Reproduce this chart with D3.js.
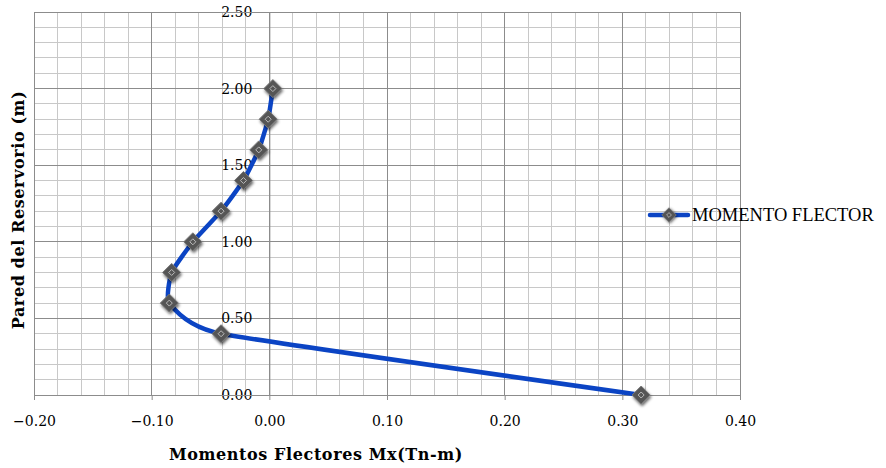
<!DOCTYPE html>
<html><head><meta charset="utf-8">
<script src="https://cdn.jsdelivr.net/npm/d3@7"></script>
<style>body{margin:0;background:#fff}svg{display:block}</style>
</head><body><svg id="c" width="886" height="468"></svg>
<script>
const heights = [0.0, 0.4, 0.6, 0.8, 1.0, 1.2, 1.4, 1.6, 1.8, 2.0];
const moments = [0.316, -0.041, -0.085, -0.083, -0.065, -0.041, -0.022, -0.009, -0.001, 0.003];
const xTicks = [-0.2, -0.1, 0.0, 0.1, 0.2, 0.3, 0.4];
const yTicks = [0.0, 0.5, 1.0, 1.5, 2.0, 2.5];
const seriesName = "MOMENTO FLECTOR";

const svg = d3.select("#c");
const L = 34, R = 740, T = 12, B = 395;
const x = d3.scaleLinear().domain([-0.2, 0.4]).range([L, R]);
const y = d3.scaleLinear().domain([0, 2.5]).range([B, T]);

const defs = svg.append("defs");
const f = defs.append("filter").attr("id","sh").attr("x","-50%").attr("y","-50%").attr("width","200%").attr("height","200%");
f.append("feGaussianBlur").attr("in","SourceAlpha").attr("stdDeviation",1.8).attr("result","b");
f.append("feOffset").attr("in","b").attr("dx",1).attr("dy",1.5).attr("result","o");
f.append("feComponentTransfer").attr("in","o").attr("result","o2").append("feFuncA").attr("type","linear").attr("slope",0.6);
const m = f.append("feMerge"); m.append("feMergeNode").attr("in","o2"); m.append("feMergeNode").attr("in","SourceGraphic");

// minor grid
const g = svg.append("g");
g.selectAll(".mx").data(d3.range(-0.2, 0.4001, 0.02)).join("line")
  .attr("x1", d=>x(d)).attr("x2", d=>x(d)).attr("y1", T).attr("y2", B)
  .attr("stroke", "#c8c8c8").attr("stroke-width", 1).attr("shape-rendering","crispEdges");
g.selectAll(".my").data(d3.range(0, 2.5001, 0.1)).join("line")
  .attr("x1", L).attr("x2", R).attr("y1", d=>y(d)).attr("y2", d=>y(d))
  .attr("stroke", "#c8c8c8").attr("stroke-width", 1).attr("shape-rendering","crispEdges");
// major grid
g.selectAll(".Mx").data(xTicks).join("line")
  .attr("x1", d=>x(d)).attr("x2", d=>x(d)).attr("y1", T).attr("y2", B)
  .attr("stroke", "#8c8c8c").attr("stroke-width", 1).attr("shape-rendering","crispEdges");
g.selectAll(".My").data(yTicks).join("line")
  .attr("x1", L).attr("x2", R).attr("y1", d=>y(d)).attr("y2", d=>y(d))
  .attr("stroke", "#8c8c8c").attr("stroke-width", 1).attr("shape-rendering","crispEdges");

// x axis
const xa = svg.append("g").attr("transform", `translate(0,${B})`)
  .call(d3.axisBottom(x).tickValues(xTicks).tickFormat(d3.format(".2f")).tickSize(5).tickPadding(16));
xa.select(".domain").attr("stroke","#8c8c8c");
xa.selectAll(".tick line").attr("stroke","#8c8c8c");
xa.selectAll("text").attr("font-family","'DejaVu Serif', serif").attr("font-size",14).attr("fill","#000");

// y axis at x=0
const ya = svg.append("g").attr("transform", `translate(${x(0)},0)`)
  .call(d3.axisLeft(y).tickValues(yTicks).tickFormat(d3.format(".2f")).tickSize(0).tickPadding(17));
ya.select(".domain").attr("stroke","#8c8c8c");
ya.selectAll("text").attr("font-family","'DejaVu Serif', serif").attr("font-size",14).attr("fill","#000");

// border
svg.append("rect").attr("x",L).attr("y",T).attr("width",R-L).attr("height",B-T)
  .attr("fill","none").attr("stroke","#8c8c8c").attr("shape-rendering","crispEdges");

// line
const pts = heights.map((h,i)=>({h, v: moments[i]}));
svg.append("path").datum(pts)
  .attr("d", d3.line().x(d=>x(d.v)).y(d=>y(d.h)).curve(d3.curveCardinal.tension(0.55)))
  .attr("fill","none").attr("stroke","#0b44c4").attr("stroke-width",4.5).attr("stroke-linejoin","round");

function marker(sel){
  sel.append("path").attr("d","M0,-9L9,0L0,9L-9,0Z").attr("fill","#555").attr("stroke","#777").attr("stroke-width",1).attr("filter","url(#sh)");
  sel.append("path").attr("d","M0,-3L3,0L0,3L-3,0Z").attr("fill","none").attr("stroke","#bbb").attr("stroke-width",1);
}
svg.selectAll(".pt").data(pts).join("g")
  .attr("transform", d=>`translate(${x(d.v)},${y(d.h)})`).call(marker);

// legend
const lg = svg.append("g").attr("transform","translate(669,215)");
lg.append("line").attr("x1",-19).attr("x2",19).attr("stroke","#0b44c4").attr("stroke-width",4.5).attr("stroke-linecap","round");
lg.append("g").attr("transform","scale(0.8)").call(marker);
lg.append("text").attr("x",23).attr("y",6).text(seriesName)
  .attr("font-family","'Liberation Serif', serif").attr("font-size",18.5).attr("fill","#000");

// axis titles
svg.append("text").attr("x",316).attr("y",460).attr("text-anchor","middle")
  .attr("font-family","'DejaVu Serif', serif").attr("font-weight","bold").attr("font-size",16)
  .attr("letter-spacing",0.6)
  .text("Momentos Flectores Mx(Tn-m)");
svg.append("text").attr("transform","translate(24,210) rotate(-90)").attr("text-anchor","middle")
  .attr("font-family","'DejaVu Serif', serif").attr("font-weight","bold").attr("font-size",16)
  .attr("letter-spacing",0.6)
  .text("Pared del Reservorio (m)");
</script></body></html>
